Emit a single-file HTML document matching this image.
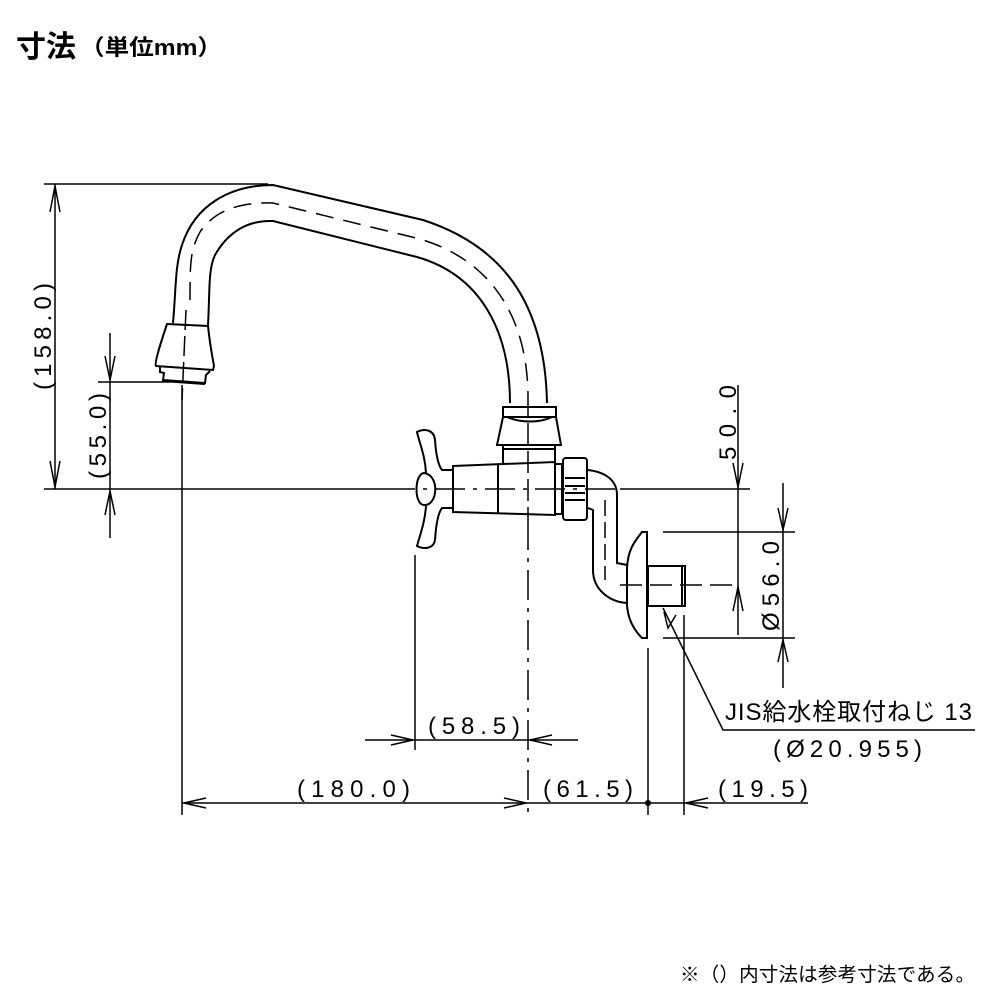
<!DOCTYPE html>
<html><head><meta charset="utf-8"><style>
html,body{margin:0;padding:0;background:#fff;}
svg{display:block;}
.t{font-family:"Liberation Sans","Noto Sans CJK JP",sans-serif;fill:#000;}
.d{font-family:"Liberation Sans","Noto Sans CJK JP",sans-serif;font-size:24px;fill:#000;}
</style></head><body>
<svg width="1000" height="1000" viewBox="0 0 1000 1000" xmlns="http://www.w3.org/2000/svg">
<text class="t" x="16" y="57" font-size="30" font-weight="bold">寸法</text>
<text class="t" x="80" y="55" font-size="22" font-weight="bold" textLength="142" lengthAdjust="spacingAndGlyphs">（単位mm）</text>

<g fill="none" stroke="#000" stroke-width="1.5">
<line x1="44" y1="184" x2="268" y2="184"/>
<line x1="55" y1="184" x2="55" y2="489"/>
<line x1="44" y1="489" x2="385" y2="489"/>
<line x1="98" y1="382" x2="170" y2="382"/>
<line x1="110" y1="333" x2="110" y2="538"/>
<line x1="182" y1="385" x2="182" y2="815"/>
<line x1="528" y1="520" x2="528" y2="815" stroke-dasharray="30,8,4,8"/>
<line x1="528" y1="395" x2="528" y2="520" stroke-dasharray="22,6"/>
<line x1="415" y1="555" x2="415" y2="750"/>
<line x1="648" y1="648" x2="648" y2="815"/>
<line x1="684" y1="615" x2="684" y2="815"/>
<line x1="620" y1="489" x2="750" y2="489"/>
<line x1="385" y1="489" x2="620" y2="489" stroke-dasharray="30,8,4,8"/>
<line x1="738" y1="385" x2="738" y2="635"/>
<line x1="663" y1="532" x2="795" y2="532"/>
<line x1="663" y1="638" x2="795" y2="638"/>
<line x1="620" y1="585" x2="740" y2="585" stroke-dasharray="22,8"/>
<line x1="783" y1="483" x2="783" y2="688"/>
<line x1="365" y1="740" x2="578" y2="740"/>
<line x1="182" y1="803" x2="808" y2="803"/>
<polyline points="663,608 723,730 975,730"/>
<polyline points="50,212 55,186 60,212"/>
<polyline points="50,461 55,487 60,461"/>
<polyline points="105,356 110,380 115,356"/>
<polyline points="105,515 110,491 115,515"/>
<polyline points="733,463 738,487 743,463"/>
<polyline points="733,611 738,587 743,611"/>
<polyline points="778,508 783,530 788,508"/>
<polyline points="778,662 783,640 788,662"/>
<polyline points="391,735 413,740 391,745"/>
<polyline points="552,735 530,740 552,745"/>
<polyline points="206,798 184,803 206,808"/>
<polyline points="504,798 526,803 504,808"/>
<polyline points="708,798 686,803 708,808"/>
<polyline points="664,612 668,628 676,615"/>
</g>
<circle cx="648" cy="803" r="3" fill="#000"/>

<g fill="none" stroke="#000" stroke-width="2">
<path d="M173,323 C176,290 175,265 182,245 C195,205 230,185 273,185 L423,220 C500,245 545,300 547,403"/>
<path d="M208,325 C210,290 208,270 215,255 C228,232 248,220 273,221 L417,257 C480,275 510,330 510,403"/>
<path d="M190,300 C190,265 190,250 200,232 C215,210 240,202 273,203 L420,239 C490,260 527,315 528,395" stroke-width="1.5" stroke-dasharray="18,10"/>
<path d="M167,324 L208,326 C210,345 212,355 214,366 L213,370 L156,366 C154,364 160,345 167,324 Z"/>
<path d="M160,367 L160,372 L164,373 L163,380 L205,383 L206,375 L210,371"/>
<line x1="162" y1="381" x2="205" y2="384"/>
<line x1="186" y1="310" x2="182" y2="400" stroke-width="1.5" stroke-dasharray="20,6"/>
<rect x="503" y="407" width="53" height="10"/>
<path d="M507,417 C520,423 540,423 552,417"/>
<path d="M503,417 L497,445 L561,445 L556,417"/>
<path d="M503,445 L503,463 M555,445 L555,462"/>
<line x1="503" y1="449" x2="555" y2="449"/>
<path d="M453,466 L555,462 L555,515 L453,512 Z"/>
<line x1="498" y1="464" x2="498" y2="514"/>
<rect x="555" y="464" width="7" height="50"/>
<rect x="563" y="458" width="24" height="62" rx="3"/>
<line x1="565" y1="478" x2="585" y2="478"/>
<line x1="565" y1="500" x2="585" y2="500"/>
<line x1="565" y1="486" x2="585" y2="486"/>
<line x1="565" y1="493" x2="585" y2="493"/>
<path d="M453,470 L442,470 C438,465 436,455 435,440 C434,430 425,428 417,432 C420,445 425,455 426,473"/>
<path d="M453,508 L442,508 C438,513 436,525 435,540 C434,548 425,550 417,546 C420,535 425,522 426,506"/>
<path d="M424,473 C440,475 438,506 424,505 C414,505 414,474 424,473 Z"/>
<path d="M588,470 C605,472 617,480 617,495 L617,563 L627,565"/>
<path d="M588,508 L593,510 L593,570 C593,590 610,602 627,603"/>
<line x1="605" y1="500" x2="605" y2="580" stroke-width="1.5" stroke-dasharray="16,6"/>
<path d="M647,532 L642,532 C636,540 628,548 627,568 L627,605 C628,622 636,632 642,638 L647,638 Z"/>
<rect x="648" y="566" width="37" height="40"/>
<line x1="682" y1="566" x2="682" y2="606"/>
</g>

<text class="d" transform="translate(51,390) rotate(-90)" textLength="107" lengthAdjust="spacing">(158.0)</text>
<text class="d" transform="translate(106,479) rotate(-90)" textLength="86" lengthAdjust="spacing">(55.0)</text>
<text class="d" transform="translate(736,460) rotate(-90)" textLength="75" lengthAdjust="spacing">50.0</text>
<text class="d" transform="translate(779,631) rotate(-90)" textLength="90" lengthAdjust="spacing">Ø56.0</text>
<text class="d" x="428" y="734" textLength="92" lengthAdjust="spacing">(58.5)</text>
<text class="d" x="297" y="797" textLength="113" lengthAdjust="spacing">(180.0)</text>
<text class="d" x="543" y="797" textLength="90" lengthAdjust="spacing">(61.5)</text>
<text class="d" x="718" y="797" textLength="90" lengthAdjust="spacing">(19.5)</text>
<text class="d" x="725" y="720" font-size="22" textLength="247" lengthAdjust="spacing">JIS給水栓取付ねじ 13</text>
<text class="d" x="773" y="757" textLength="149" lengthAdjust="spacing">(Ø20.955)</text>
<text class="t" x="680" y="981" font-size="19.5" textLength="295" lengthAdjust="spacing">※（）内寸法は参考寸法である。</text>
</svg>
</body></html>
